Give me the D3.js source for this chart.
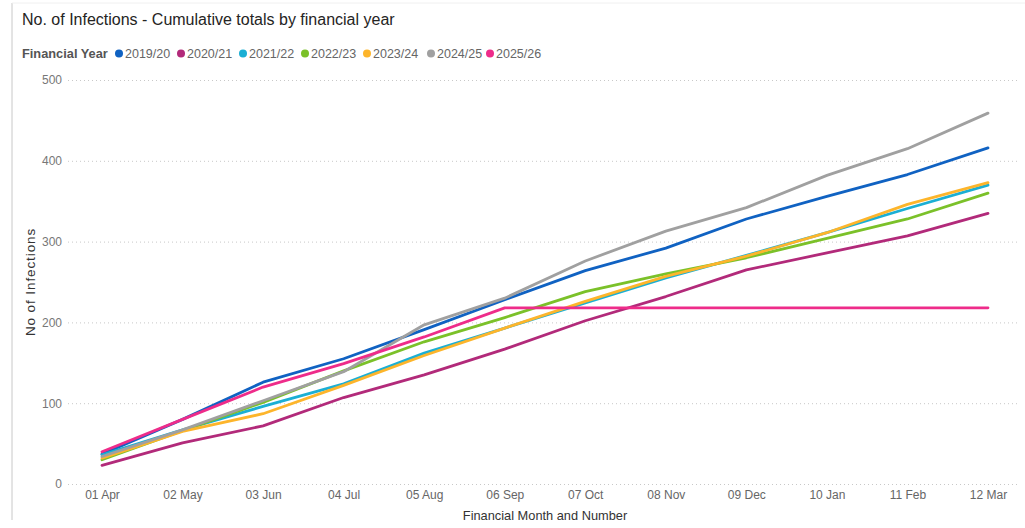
<!DOCTYPE html>
<html>
<head>
<meta charset="utf-8">
<script src="https://cdn.jsdelivr.net/npm/d3@7"></script>
<style>
  html, body { margin: 0; padding: 0; background: #fff; }
  svg { display: block; font-family: "Liberation Sans", Arial, sans-serif; }
</style>
</head>
<body>
<svg id="chart" width="1025" height="528"></svg>
<script>
const months = ["01 Apr","02 May","03 Jun","04 Jul","05 Aug","06 Sep","07 Oct","08 Nov","09 Dec","10 Jan","11 Feb","12 Mar"];
const seriesNames = ["2019/20","2020/21","2021/22","2022/23","2023/24","2024/25","2025/26"];
const fy2019 = [37, 80, 126, 155, 191, 228, 264, 292, 328, 356, 383, 416];
const fy2020 = [23, 51, 72, 107, 135, 167, 202, 232, 265, 286, 307, 335];
const fy2021 = [36, 67, 96, 124, 162, 193, 224, 255, 283, 311, 341, 370];
const fy2022 = [30, 66, 101, 140, 176, 206, 238, 260, 280, 304, 328, 360];
const fy2023 = [32, 65, 87, 122, 159, 193, 226, 257, 282, 311, 346, 373];
const fy2024 = [34, 67, 103, 139, 197, 230, 276, 313, 342, 382, 415, 459];
const fy2025 = [40, 80, 120, 149, 182, 218, 218, 218, 218, 218, 218, 218];
const seriesValues = [fy2019, fy2020, fy2021, fy2022, fy2023, fy2024, fy2025];
const seriesColors = ["#1062C2","#B22A7A","#1BAFD4","#7BC129","#FDB52B","#A0A0A0","#EE2C8A"];
const yTicks = [0, 100, 200, 300, 400, 500];

const svg = d3.select("#chart");

// frame lines
svg.append("line").attr("x1", 12).attr("x2", 12).attr("y1", 3).attr("y2", 520)
  .attr("stroke", "#c8c8c8").attr("stroke-width", 1);
svg.append("line").attr("x1", 12).attr("x2", 1025).attr("y1", 3).attr("y2", 3)
  .attr("stroke", "#f0f0f0").attr("stroke-width", 1);

// title
svg.append("text").attr("x", 22).attr("y", 25)
  .attr("font-size", 16).attr("fill", "#252423")
  .text("No. of Infections - Cumulative totals by financial year");

// legend
const legend = svg.append("g");
legend.append("text").attr("x", 22).attr("y", 58)
  .attr("font-size", 12.8).attr("font-weight", "bold").attr("fill", "#555")
  .text("Financial Year");
const legendX = [119, 181, 243, 305, 367, 431, 490];
seriesNames.forEach((name, i) => {
  legend.append("circle").attr("cx", legendX[i]).attr("cy", 53.5).attr("r", 4)
    .attr("fill", seriesColors[i]);
  legend.append("text").attr("x", legendX[i] + 6).attr("y", 58)
    .attr("font-size", 12.5).attr("fill", "#666").text(name);
});

// scales
const x = d3.scalePoint().domain(months).range([102, 988]);
const y = d3.scaleLinear().domain([0, 500]).range([484, 80]);

// gridlines
const grid = svg.append("g")
  .attr("transform", "translate(68,0)")
  .call(d3.axisLeft(y).tickValues(yTicks).tickSize(-952).tickFormat(""));
grid.select(".domain").remove();
grid.selectAll(".tick line").attr("stroke", "#c8c8c8").attr("stroke-dasharray", "1,3");

// y axis labels
const yAxis = svg.append("g")
  .attr("transform", "translate(62,0)")
  .call(d3.axisLeft(y).tickValues(yTicks).tickSize(0).tickPadding(0));
yAxis.select(".domain").remove();
yAxis.selectAll("text").attr("font-size", 12).attr("fill", "#777")
  .attr("font-family", "Liberation Sans, Arial, sans-serif");

// x axis labels
const xAxis = svg.append("g")
  .attr("transform", "translate(0,490)")
  .call(d3.axisBottom(x).tickSize(0).tickPadding(0));
xAxis.select(".domain").remove();
xAxis.selectAll("text").attr("font-size", 12).attr("fill", "#666")
  .attr("font-family", "Liberation Sans, Arial, sans-serif");

// axis titles
svg.append("text").attr("x", 545).attr("y", 520).attr("text-anchor", "middle")
  .attr("font-size", 12.8).attr("fill", "#333").text("Financial Month and Number");
svg.append("text").attr("transform", "translate(35,282) rotate(-90)")
  .attr("text-anchor", "middle").attr("font-size", 13.5).attr("letter-spacing", 0.9)
  .attr("fill", "#333")
  .text("No of Infections");

// lines
const line = d3.line().x((d, i) => x(months[i])).y(d => y(d));
seriesValues.forEach((vals, i) => {
  svg.append("path").datum(vals)
    .attr("fill", "none").attr("stroke", seriesColors[i])
    .attr("stroke-width", 2.8).attr("stroke-linejoin", "round")
    .attr("stroke-linecap", "round")
    .attr("d", line);
});
</script>
</body>
</html>
